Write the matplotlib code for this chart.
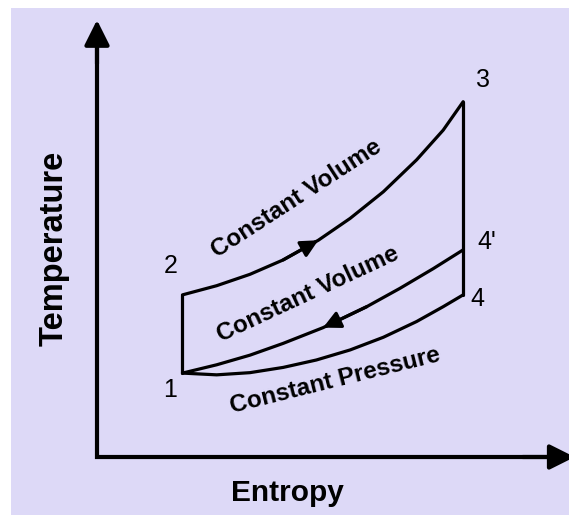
""" T-s diagram of the Otto cycle (schematic) """

import matplotlib.pyplot as plt
from matplotlib.patches import Rectangle

plt.rcParams['font.family'] = ['Liberation Sans', 'DejaVu Sans']

BG = '#ddd9f7'

# Curves (entropy, temperature on a 0-100 scale)
upper_s = [18.0, 25.2, 32.2, 39.2, 46.6, 53.3, 60.3, 67.3, 72.9, 77.1]
upper_T = [37.1, 39.2, 41.8, 45.1, 49.6, 54.6, 60.7, 68.0, 74.8, 81.3]

middle_s = [18.0, 25.2, 32.2, 39.2, 47.6, 56.8, 63.8, 70.8, 77.1]
middle_T = [19.2, 21.1, 23.3, 26.0, 29.6, 34.4, 38.6, 43.1, 47.4]

lower_s = [18.0, 25.2, 32.2, 39.2, 46.2, 53.3, 60.3, 67.3, 72.9, 77.1]
lower_T = [19.2, 18.8, 19.3, 20.5, 22.2, 24.5, 27.4, 31.0, 34.4, 37.1]

point_labels = ['1', '2', '3', "4'", '4']
curve_labels = ['Constant Volume', 'Constant Volume', 'Constant Pressure']

fig = plt.figure(figsize=(5.69, 5.15), dpi=100, facecolor='white')
fig.patches.append(Rectangle((11 / 569, 0), 1, 1 - 8 / 515, transform=fig.transFigure,
                             facecolor=BG, edgecolor='none', zorder=-5))

ax = fig.add_axes([97 / 569, 58 / 515, 473 / 569, 437 / 515])
ax.set_zorder(2)
ax.set_xlim(0, 99.6)
ax.set_ylim(0, 100)
ax.patch.set_visible(False)
for sp in ax.spines.values():
    sp.set_visible(False)
ax.set_xticks([])
ax.set_yticks([])

# axes: L-shaped line plus arrow heads
ax.plot([0, 0, 0.97], [0.95, 0, 0], transform=ax.transAxes, color='black', lw=3,
        solid_joinstyle='miter', solid_capstyle='butt', clip_on=False)
axis_arrow = dict(arrowstyle='-|>', lw=3, color='black', mutation_scale=38,
                  shrinkA=0, shrinkB=0)
ax.annotate('', xy=(0, 1), xytext=(0, 0.9), xycoords='axes fraction', arrowprops=axis_arrow)
ax.annotate('', xy=(1.01, 0), xytext=(0.9, 0), xycoords='axes fraction', arrowprops=axis_arrow)

lw = 2.3
line_kw = dict(color='black', lw=lw, solid_capstyle='round', solid_joinstyle='round')
ax.plot(upper_s, upper_T, **line_kw)
ax.plot(middle_s, middle_T, **line_kw)
ax.plot(lower_s, lower_T, **line_kw)
ax.plot([lower_s[0], upper_s[0]], [lower_T[0], upper_T[0]], **line_kw)
ax.plot([upper_s[-1], lower_s[-1]], [upper_T[-1], lower_T[-1]], **line_kw)

# direction arrows
flow_arrow = dict(arrowstyle='-|>', lw=lw, color='black', mutation_scale=26,
                  shrinkA=0, shrinkB=0)
ax.annotate('', xy=(upper_s[4], upper_T[4]), xytext=(upper_s[3], upper_T[3]), arrowprops=flow_arrow)
ax.annotate('', xy=(middle_s[4], middle_T[4]), xytext=(middle_s[5], middle_T[5]), arrowprops=flow_arrow)

# state point labels
num_kw = dict(fontsize=18, ha='center', va='center', color='black')
ax.text(15.4, 15.4, point_labels[0], **num_kw)
ax.text(15.6, 43.7, point_labels[1], **num_kw)
ax.text(81.3, 86.3, point_labels[2], **num_kw)
ax.text(82.0, 49.2, point_labels[3], **num_kw)
ax.text(80.2, 36.2, point_labels[4], **num_kw)

# process labels
lab_kw = dict(fontsize=17.5, fontweight='bold', ha='center', va='center', rotation_mode='anchor')
ax.text(42.0, 59.2, curve_labels[0], rotation=33, **lab_kw)
ax.text(44.5, 37.3, curve_labels[1], rotation=25, **lab_kw)
ax.text(50.1, 17.4, curve_labels[2], rotation=14, **lab_kw)

fig.text(54 / 569, 1 - 248 / 515, 'Temperature', rotation=90, fontsize=23.5, fontweight='bold',
         ha='center', va='center')
fig.text(287 / 569, 1 - 493 / 515, 'Entropy', fontsize=21.5, fontweight='bold',
         ha='center', va='center')

fig.savefig('out.png', dpi=100, facecolor='white')
